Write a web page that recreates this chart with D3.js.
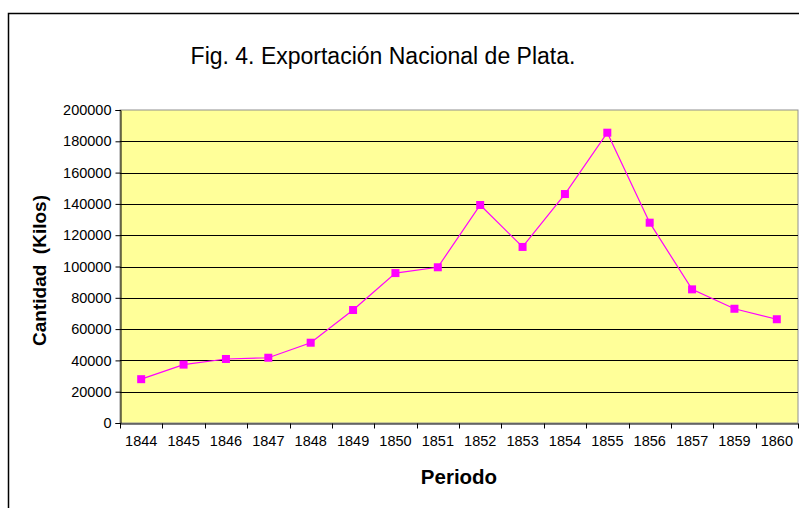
<!DOCTYPE html>
<html>
<head>
<meta charset="utf-8">
<style>
  body { margin: 0; background: #fff; }
  svg { display: block; font-family: "Liberation Sans", Arial, sans-serif; }
</style>
</head>
<body>
<div id="chart"></div>
<script src="https://cdn.jsdelivr.net/npm/d3@7"></script>
<script>
// periods (1858 is missing in the source)
var years = ["1844", "1845", "1846", "1847", "1848", "1849", "1850", "1851",
             "1852", "1853", "1854", "1855", "1856", "1857", "1859", "1860"];
// kilos of silver exported
var kilos = [28000, 37300, 40900, 41700, 51300, 72200, 95800, 99500,
             139300, 112500, 146300, 185500, 128000, 85400, 73000, 66300];
var yTicks = [0, 20000, 40000, 60000, 80000, 100000, 120000, 140000, 160000, 180000, 200000];

var width = 799, height = 508;
var plot = { left: 120, top: 110, right: 798, bottom: 423 };

var svg = d3.select("#chart").append("svg")
    .attr("width", width)
    .attr("height", height);

// outer chart frame (cut off on right/bottom in the original)
svg.append("rect")
    .attr("x", 8.5).attr("y", 13.5)
    .attr("width", 800).attr("height", 520)
    .attr("fill", "#fff")
    .attr("stroke", "#000")
    .attr("stroke-width", 1.5);

var x = d3.scaleBand()
    .domain(years)
    .range([plot.left, plot.right]);

var y = d3.scaleLinear()
    .domain([0, 200000])
    .range([plot.bottom, plot.top]);

// plot background
svg.append("rect")
    .attr("x", plot.left).attr("y", plot.top)
    .attr("width", plot.right - plot.left)
    .attr("height", plot.bottom - plot.top)
    .attr("fill", "#ffff99")
    .attr("stroke", "#909090")
    .attr("stroke-width", 1);

// gridlines
svg.append("g")
    .selectAll("line")
    .data(yTicks.filter(function (d) { return d > 0 && d < 200000; }))
    .enter().append("line")
    .attr("x1", plot.left).attr("x2", plot.right)
    .attr("y1", function (d) { return Math.round(y(d)) + 0.5; })
    .attr("y2", function (d) { return Math.round(y(d)) + 0.5; })
    .attr("stroke", "#000")
    .attr("stroke-width", 1);

// y axis
var yAxis = svg.append("g")
    .attr("transform", "translate(" + (plot.left + 0.5) + ",0)")
    .call(d3.axisLeft(y).tickValues(yTicks).tickSize(5).tickPadding(4)
        .tickFormat(d3.format("d")));
yAxis.select(".domain").attr("stroke", "#000");
yAxis.selectAll(".tick line").attr("stroke", "#000");
yAxis.selectAll("text").attr("font-size", 14.5).attr("fill", "#000")
    .attr("font-family", "Liberation Sans, Arial, sans-serif");

// x axis, ticks between categories
var xAxis = svg.append("g")
    .attr("transform", "translate(0," + (plot.bottom + 0.5) + ")")
    .call(d3.axisBottom(x).tickSize(0).tickPadding(12));
xAxis.select(".domain").attr("stroke", "#000");
xAxis.selectAll("text").attr("font-size", 14.5).attr("fill", "#000")
    .attr("font-family", "Liberation Sans, Arial, sans-serif");
xAxis.selectAll(".sep")
    .data(years.concat(["end"]))
    .enter().append("line")
    .attr("class", "sep")
    .attr("x1", function (d, i) { return Math.round(plot.left + i * x.bandwidth()) + 0.5; })
    .attr("x2", function (d, i) { return Math.round(plot.left + i * x.bandwidth()) + 0.5; })
    .attr("y1", 0).attr("y2", 5)
    .attr("stroke", "#000");

// data line
var line = d3.line()
    .x(function (d, i) { return x(years[i]) + x.bandwidth() / 2; })
    .y(function (d) { return y(d); });

svg.append("path")
    .datum(kilos)
    .attr("d", line)
    .attr("fill", "none")
    .attr("stroke", "#ff00ff")
    .attr("stroke-width", 1.2);

svg.append("g")
    .selectAll("rect")
    .data(kilos)
    .enter().append("rect")
    .attr("x", function (d, i) { return x(years[i]) + x.bandwidth() / 2 - 4; })
    .attr("y", function (d) { return y(d) - 4; })
    .attr("width", 8).attr("height", 8)
    .attr("fill", "#ff00ff");

// titles
svg.append("text")
    .attr("x", 383).attr("y", 64)
    .attr("text-anchor", "middle")
    .attr("font-size", 23)
    .text("Fig. 4. Exportación Nacional de Plata.");

svg.append("text")
    .attr("transform", "translate(46," + ((plot.top + plot.bottom) / 2 + 4) + ") rotate(-90)")
    .attr("text-anchor", "middle")
    .attr("font-size", 19)
    .attr("font-weight", "bold")
    .attr("xml:space", "preserve")
    .text("Cantidad  (Kilos)");

svg.append("text")
    .attr("x", 459).attr("y", 484)
    .attr("text-anchor", "middle")
    .attr("font-size", 20.5)
    .attr("font-weight", "bold")
    .text("Periodo");
</script>
</body>
</html>
